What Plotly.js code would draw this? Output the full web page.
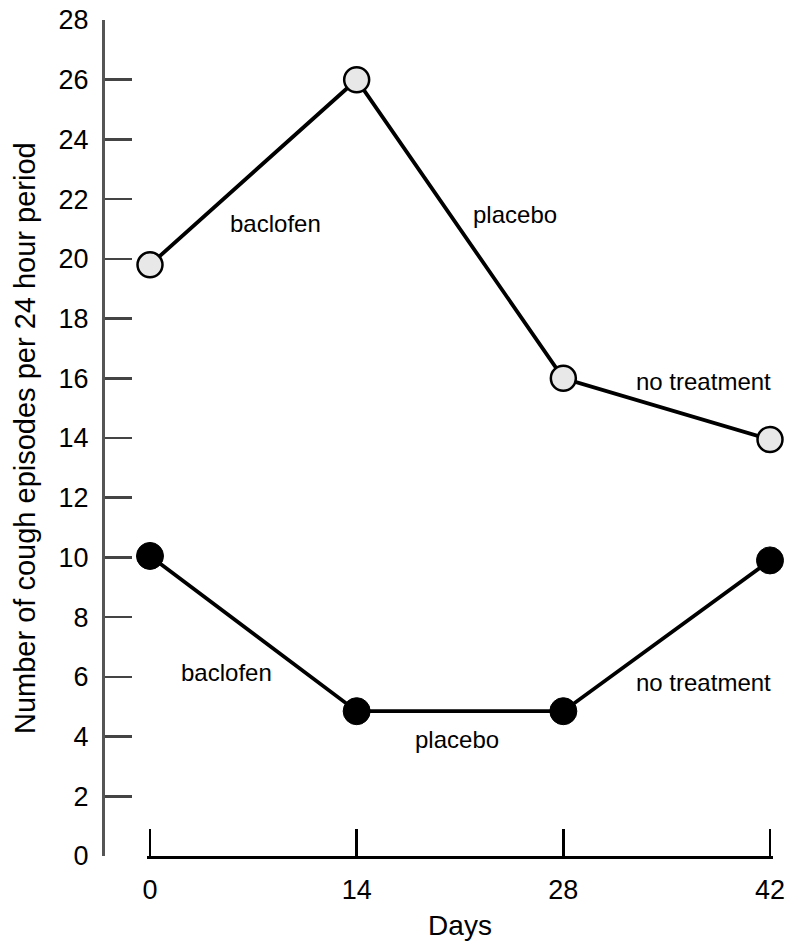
<!DOCTYPE html>
<html><head><meta charset="utf-8">
<script src="https://cdn.plot.ly/plotly-3.0.1.min.js"></script>
<style>body{margin:0;background:#fff}</style>
</head><body>
<div id="chart" style="width:787px;height:949px"></div>
<script>
const days = [0, 14, 28, 42];
const upperSeries = [19.8, 26.0, 16.0, 13.95];
const lowerSeries = [10.05, 4.85, 4.85, 9.9];
const yTicks = [0,2,4,6,8,10,12,14,16,18,20,22,24,26,28];
const labelText = ["baclofen","placebo","no treatment","baclofen","placebo","no treatment"];
const labelX = [8.5, 24.7, 37.5, 5.2, 20.8, 37.5];
const labelY = [21.2, 21.5, 15.9, 6.15, 3.9, 5.8];
const yTitle = 'Number of cough episodes per 24 hour period';

const W = 787;
const pxPerDay = 620 / 42;
const pad = 0.2;
const traces = [
  {x: days, y: upperSeries, mode: 'lines+markers', type: 'scatter',
   line: {color: '#000', width: 3.8},
   marker: {size: 25, color: '#e8e8e8', line: {color: '#000', width: 2.5}},
   cliponaxis: false, hoverinfo: 'skip'},
  {x: days, y: lowerSeries, mode: 'lines+markers', type: 'scatter',
   line: {color: '#000', width: 3.8},
   marker: {size: 27, color: '#000', line: {color: '#000', width: 1}},
   cliponaxis: false, hoverinfo: 'skip'}
];
const annotations = labelText.map((t, i) => ({
  x: labelX[i], y: labelY[i], xref: 'x', yref: 'y', text: t, showarrow: false,
  font: {size: 24, color: '#000', family: 'Liberation Sans, Arial, sans-serif'}
}));
annotations.push({
  x: 25 / W, y: 14, xref: 'paper', yref: 'y', text: yTitle, textangle: -90,
  showarrow: false, xanchor: 'center', yanchor: 'middle',
  font: {size: 29, color: '#000', family: 'Liberation Sans, Arial, sans-serif'}
});
const layout = {
  width: 787, height: 949,
  margin: {l: 0, r: 0, t: 20, b: 93},
  paper_bgcolor: '#fff', plot_bgcolor: '#fff',
  showlegend: false,
  font: {family: 'Liberation Sans, Arial, sans-serif', color: '#000', size: 28},
  xaxis: {
    domain: [(150 - pad * pxPerDay) / W, (770 + pad * pxPerDay) / W], range: [-pad, 42 + pad],
    tickvals: days, ticktext: days.map(String),
    ticks: 'inside', ticklen: 27, tickwidth: 2.5, tickcolor: '#000',
    showline: true, linecolor: '#000', linewidth: 2.5,
    showgrid: false, zeroline: false,
    ticklabelstandoff: 8,
    tickfont: {size: 27},
    title: {text: 'Days', font: {size: 28}, standoff: 12}
  },
  yaxis: {
    anchor: 'free', position: 103 / W, range: [0, 28],
    tickvals: yTicks, ticktext: yTicks.map(String),
    ticks: 'inside', ticklen: 27, tickwidth: 2.5, tickcolor: '#444',
    showline: true, linecolor: '#555', linewidth: 2.5,
    showgrid: false, zeroline: false,
    ticklabelstandoff: 8,
    tickfont: {size: 27}
  },
  annotations: annotations
};
Plotly.newPlot('chart', traces, layout, {staticPlot: true});
</script>
</body></html>
